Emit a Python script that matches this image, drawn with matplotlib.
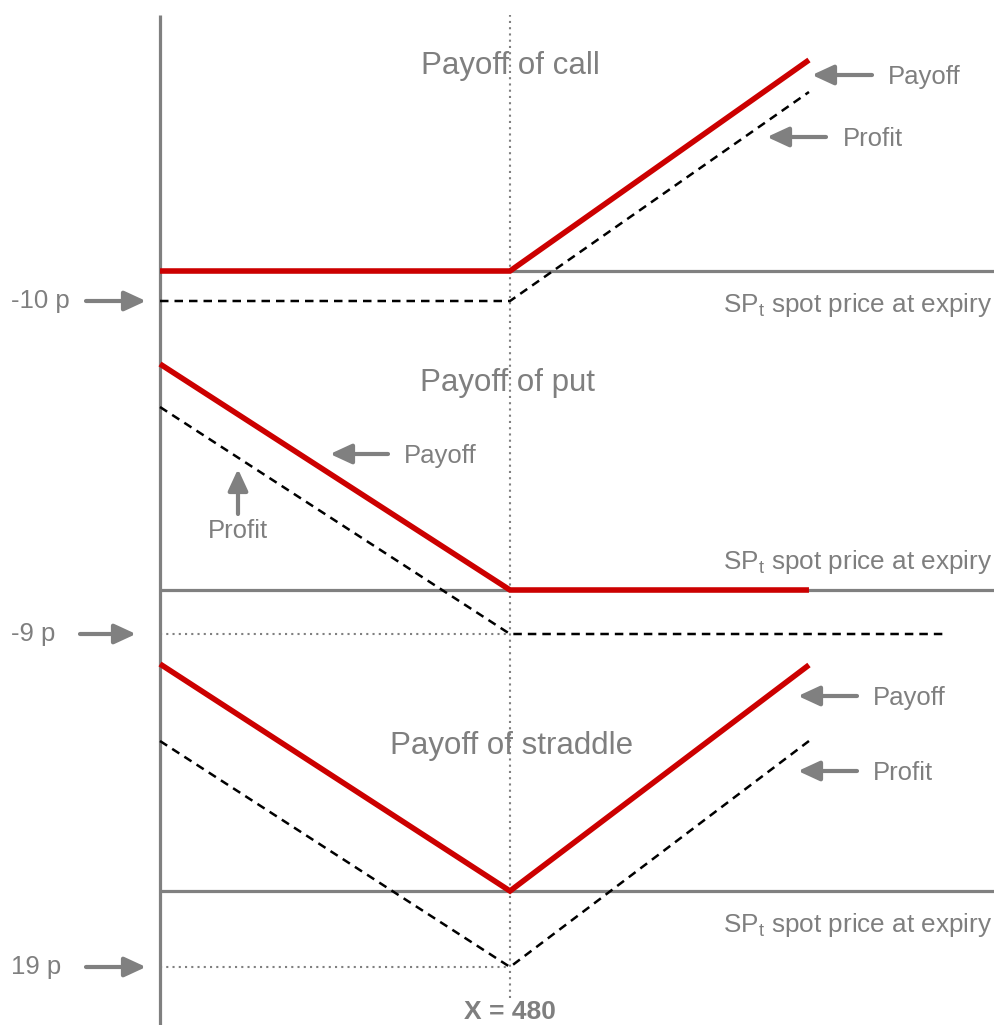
import matplotlib
matplotlib.use("Agg")
import matplotlib.pyplot as plt

plt.rcParams['font.family'] = ['Liberation Sans', 'DejaVu Sans']
plt.rcParams['mathtext.fontset'] = 'custom'
plt.rcParams['mathtext.rm'] = 'Liberation Sans'

# ---- data (spot price on x, value in chart units on y) ----
strike = 480
spot_pts = [0, 480, 890]
spot_put_profit = [0, 480, 1076]

call_payoff = [0, 0, 211]
call_profit = [-30, -30, 179]
put_payoff = [226, 0, 0]
put_profit = [183, -44, -44]
straddle_payoff = [227, 0, 226]
straddle_profit = [150, -76, 150]

panel_base = {'call': 754, 'put': 435, 'straddle': 134}
premium_labels = ['-10 p', '-9 p', '19 p']
titles = ['Payoff of call', 'Payoff of put', 'Payoff of straddle']
axis_label = r'SP$_\mathregular{t}$ spot price at expiry'
strike_label = 'X = 480'

RED = '#cc0000'
GRAY = '#808080'
TXT = '#7f7f7f'

W, H = 995, 1025
fig = plt.figure(figsize=(W / 100, H / 100), dpi=100)
ax = fig.add_axes([0, 0, 1, 1])
ax.set_xlim(-160 * 480 / 350, (995 - 160) * 480 / 350)
ax.set_ylim(0, H)
ax.axis('off')

# vertical axis and strike line
ax.plot([0, 0], [0, H - 15], color=GRAY, lw=2.3, solid_capstyle='butt', zorder=2)
ax.plot([strike, strike], [H - 998, H - 15], color=GRAY, lw=1.5, ls=(0, (1, 2)), zorder=1)

def add(xs, ys, base, **kw):
    ax.plot(xs, [base + v for v in ys], **kw)

xmax_axis = (995 - 160) * 480 / 350
for key in ['call', 'put', 'straddle']:
    b = panel_base[key]
    ax.plot([0, xmax_axis], [b, b], color=GRAY, lw=2.3, solid_capstyle='butt', zorder=2)

red_kw = dict(color=RED, lw=4.0, solid_capstyle='butt', solid_joinstyle='miter', zorder=4)
dash_kw = dict(color='black', lw=1.8, ls=(0, (3.4, 2.4)), zorder=3)
dot_kw = dict(color=GRAY, lw=1.5, ls=(0, (1, 2)), zorder=1)

b = panel_base['call']
add(spot_pts, call_payoff, b, **red_kw)
add(spot_pts, call_profit, b, **dash_kw)

b = panel_base['put']
add(spot_pts, put_payoff, b, **red_kw)
add(spot_put_profit, put_profit, b, **dash_kw)
add([0, strike], [put_profit[1]] * 2, b, **dot_kw)

b = panel_base['straddle']
add(spot_pts, straddle_payoff, b, **red_kw)
add(spot_pts, straddle_profit, b, **dash_kw)
add([0, strike], [straddle_profit[1]] * 2, b, **dot_kw)

# ---- annotations in figure pixels ----
def fp(x, y):
    return (x, H - y)

def arrow(x0, y0, x1, y1):
    ax.annotate('', xy=fp(x1, y1), xytext=fp(x0, y0),
                xycoords='figure pixels', textcoords='figure pixels',
                arrowprops=dict(arrowstyle='-|>,head_length=1.3,head_width=0.6',
                                color=GRAY, lw=3, shrinkA=0, shrinkB=0))

def txt(x, y, s, ha='left', size=18.5, **kw):
    ax.text(*fp(x, y), s, transform=None, ha=ha, va='center', color=TXT,
            fontsize=size, **kw)

# titles
txt(510, 66, titles[0], ha='center', size=22.5)
txt(508, 383, titles[1], ha='center', size=22.5)
txt(512, 746, titles[2], ha='center', size=22.5)

# axis labels
for y in [305, 562, 925]:
    txt(992, y, axis_label, ha='right', size=18.8)

# premium labels
for lab, y, x0, x1 in zip(premium_labels, [301, 634, 967], [86, 80, 86], [146, 136, 146]):
    txt(11, y, lab)
    arrow(x0, y, x1, y)

# call
arrow(872, 75, 812, 75)
txt(888, 77, 'Payoff')
arrow(826, 137, 767, 137)
txt(843, 139, 'Profit')
# put
arrow(388, 454, 330, 454)
txt(404, 456, 'Payoff')
arrow(238, 514, 238, 469)
txt(238, 531, 'Profit', ha='center')
# straddle
arrow(857, 696, 798, 696)
txt(873, 698, 'Payoff')
arrow(857, 771, 798, 771)
txt(873, 773, 'Profit')

txt(510, 1012, strike_label, ha='center', size=19, fontweight='bold')

fig.savefig('out.png', dpi=100)
